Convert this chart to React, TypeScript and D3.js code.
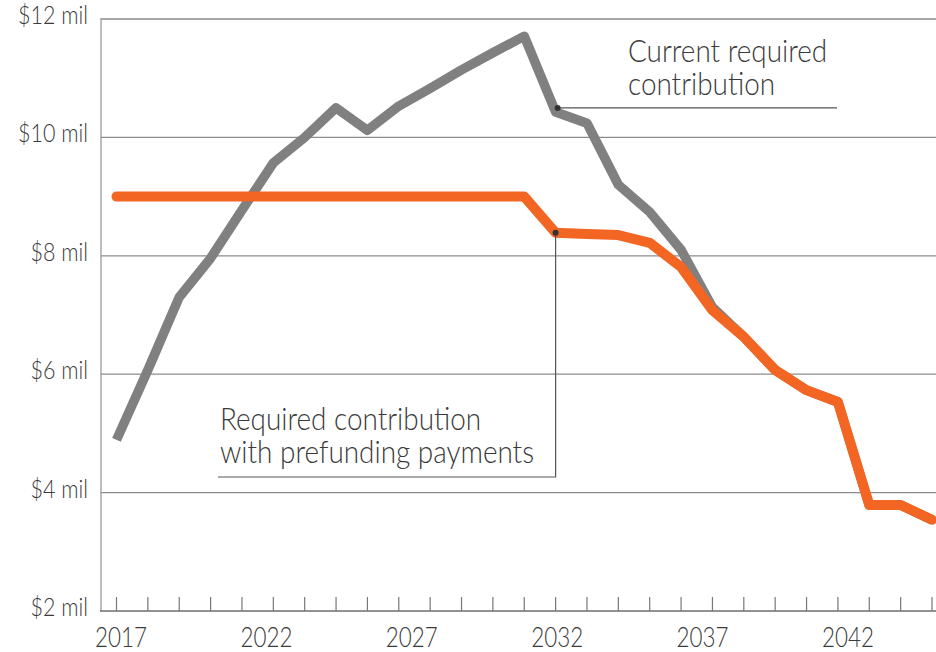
import React from "react";
import * as d3 from "d3";

const years = d3.range(2017, 2044);
const currentRequired = [4.89, 6.07, 7.3, 7.96, 8.77, 9.57, 10.0, 10.5, 10.12, 10.53, 10.83, 11.14, 11.43, 11.71, 10.43, 10.24, 9.2, 8.74, 8.1, 7.13, 6.63, 6.07, 5.73, 5.53, 3.79, 3.79, 3.54];
const withPrefunding = [9.0, 9.0, 9.0, 9.0, 9.0, 9.0, 9.0, 9.0, 9.0, 9.0, 9.0, 9.0, 9.0, 9.0, 8.39, 8.37, 8.35, 8.22, 7.81, 7.08, 6.63, 6.07, 5.73, 5.53, 3.79, 3.79, 3.54];
const yTicks = [2, 4, 6, 8, 10, 12];
const yearLabels = [2017, 2022, 2027, 2032, 2037, 2042];
const labelCurrent = ["Current required", "contribution"];
const labelPrefund = ["Required contribution", "with prefunding payments"];

const W = 936;
const H = 652;
const FONT = "Lato, 'Open Sans', sans-serif";
const TEXT = "#3a3a3a";

export default function App() {
  const x = d3.scaleLinear().domain([2017, 2043]).range([116.5, 932]);
  const xLab = d3.scaleLinear().domain([2017, 2042]).range([121, 848]);
  const y = d3.scaleLinear().domain([2, 12]).range([611, 19]);
  const line = d3
    .line<number>()
    .x((_, i) => x(years[i]))
    .y((d) => y(d));

  const ai = 14;
  const dotG: [number, number] = [x(years[ai]) + 2, y(currentRequired[ai])];
  const dotO: [number, number] = [x(years[ai]), y(withPrefunding[ai])];

  return (
    <svg width={W} height={H} style={{ position: "absolute", left: 0, top: 0, background: "#fff" }}>
      {/* gridlines */}
      {yTicks.map((t) =>
        t === 2 ? null : (
          <line
            key={t}
            x1={101}
            x2={W}
            y1={y(t)}
            y2={y(t)}
            stroke={t === 12 ? "#a8a8a8" : "#8c8c8c"}
            strokeWidth={t === 12 ? 2 : 1.2}
          />
        )
      )}
      {/* left axis */}
      <line x1={101} x2={101} y1={y(12) - 1} y2={y(2)} stroke="#9a9a9a" strokeWidth={1.3} />
      {/* bottom axis */}
      <line x1={100} x2={W} y1={y(2)} y2={y(2)} stroke="#6e6e6e" strokeWidth={1.6} />
      {years.map((yr) => (
        <line key={yr} x1={x(yr)} x2={x(yr)} y1={y(2) - 14} y2={y(2)} stroke="#777" strokeWidth={1.2} />
      ))}
      {/* y labels */}
      {yTicks.map((t) => (
        <text
          key={t}
          transform={`translate(88,${y(t) + 5}) scale(0.86,1)`}
          textAnchor="end"
          fontFamily={FONT}
          fontWeight={300}
          fontSize={25}
          fill={TEXT}
        >
          {`$${t} mil`}
        </text>
      ))}
      {/* x labels */}
      {yearLabels.map((yr) => (
        <text
          key={yr}
          transform={`translate(${xLab(yr)},647) scale(0.8,1)`}
          textAnchor="middle"
          fontFamily={FONT}
          fontWeight={300}
          fontSize={28}
          fill={TEXT}
        >
          {yr}
        </text>
      ))}
      {/* series */}
      <path d={line(currentRequired) || ""} fill="none" stroke="#808080" strokeWidth={9.5} strokeLinejoin="round" />
      <path d={line(withPrefunding) || ""} fill="none" stroke="#f26522" strokeWidth={10} strokeLinejoin="round" strokeLinecap="round" />
      {/* annotation: current */}
      <line x1={dotG[0]} x2={837} y1={dotG[1] - 4} y2={dotG[1] - 4} stroke="#555" strokeWidth={1.2} />
      <circle cx={dotG[0]} cy={dotG[1] - 4} r={3} fill="#333" />
      {labelCurrent.map((s, i) => (
        <text
          key={s}
          transform={`translate(628,${62 + i * 33}) scale(0.9,1)`}
          fontFamily={FONT}
          fontWeight={300}
          fontSize={31}
          fill={TEXT}
        >
          {s}
        </text>
      ))}
      {/* annotation: prefunding */}
      <polyline
        points={`${dotO[0]},${dotO[1]} ${dotO[0]},477 218,477`}
        fill="none"
        stroke="#555"
        strokeWidth={1.2}
      />
      <circle cx={dotO[0]} cy={dotO[1]} r={3} fill="#333" />
      {labelPrefund.map((s, i) => (
        <text
          key={s}
          transform={`translate(220,${430 + i * 33}) scale(0.9,1)`}
          fontFamily={FONT}
          fontWeight={300}
          fontSize={31}
          fill={TEXT}
        >
          {s}
        </text>
      ))}
    </svg>
  );
}
